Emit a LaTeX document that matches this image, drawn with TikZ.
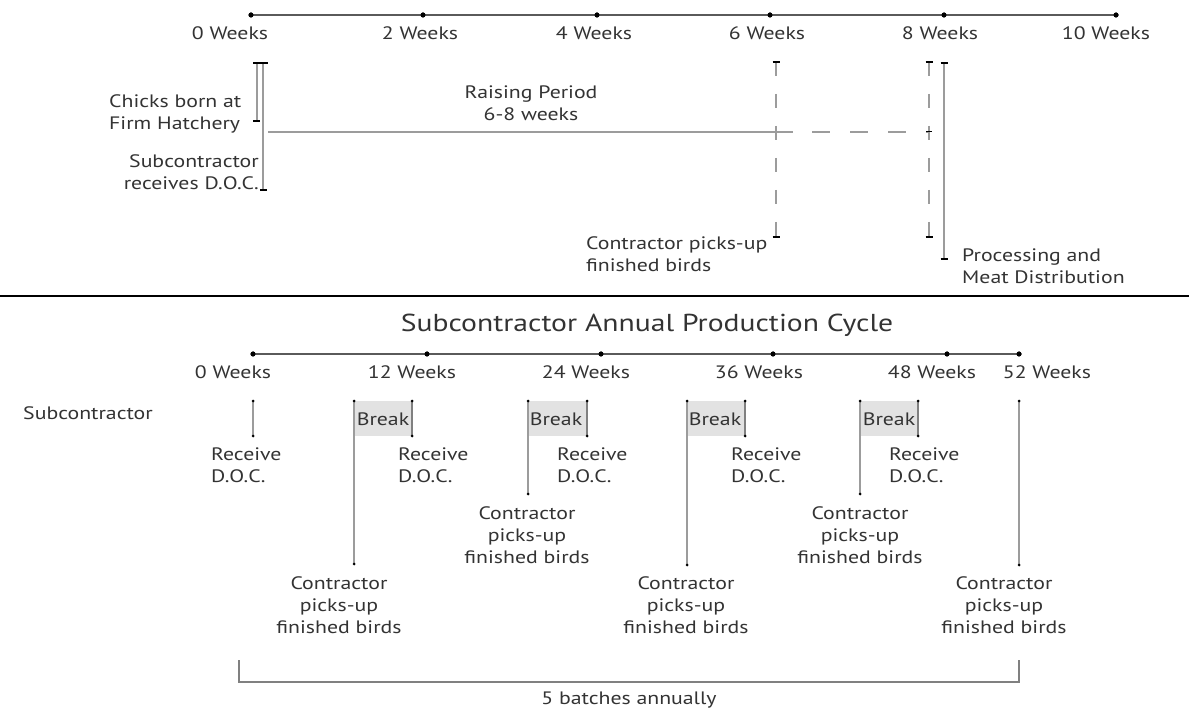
\documentclass[tikz,border=0pt]{standalone}
\usepackage{fontspec}
\setmainfont{PT Sans}[FakeStretch=1.21]
\begin{document}
\begin{tikzpicture}[x=1pt,y=-1pt,
  txt/.style={inner sep=0pt,text=textgray,font=\fontsize{18}{22}\selectfont},
  ttl/.style={inner sep=0pt,text=textgray,font=\fontsize{24.5}{28}\selectfont},
  axis/.style={draw=axisgray,line width=1.6pt},
  bar/.style={draw=bargray,line width=2pt},
  dashbar/.style={draw=bargray,line width=2pt,dash pattern=on 14pt off 18pt},
  endtick/.style={draw=black,line width=2pt},
  axisdot/.style={circle,fill=black,inner sep=0pt,minimum size=5pt},
  smalldot/.style={circle,fill=black,inner sep=0pt,minimum size=3pt},
  breakbox/.style={fill=breakgray,draw=none}]
\definecolor{textgray}{HTML}{333333}
\definecolor{axisgray}{HTML}{5A5A5A}
\definecolor{bargray}{HTML}{9C9C9C}
\definecolor{breakgray}{HTML}{E2E2E2}
\useasboundingbox[fill=white] (0,0) rectangle (1189,711);

% ---------------- upper timeline: 0 to 10 weeks ----------------
\foreach \n/\x in {0/251,2/423,4/597,6/770,8/944,10/1116}
  \node[axisdot] (t\n) at (\x,15) {};
\draw[axis] (t0.center) -- (t10.center);
\foreach \n/\x in {0/251,2/423,4/597,6/770,8/944,10/1116}
  \node[axisdot] at (\x,15) {};
\node[txt] (w0)  at (230,33)  {0 Weeks};
\node[txt] (w2)  at (420,33)  {2 Weeks};
\node[txt] (w4)  at (594,33)  {4 Weeks};
\node[txt] (w6)  at (767,33)  {6 Weeks};
\node[txt] (w8)  at (940,33)  {8 Weeks};
\node[txt] (w10) at (1106,33) {10 Weeks};

% hatchery and delivery of day-old chicks
\coordinate (hTop) at (257,63);  \coordinate (hBot) at (257,121);
\coordinate (dTop) at (263,63);  \coordinate (dBot) at (263,190);
\draw[bar] (hTop) -- (hBot);
\draw[bar] (dTop) -- (dBot);
\draw[endtick] (253,63) -- (268,63);
\draw[endtick] (253,121) -- (260,121);
\draw[endtick] (260,190) -- (267,190);
\node[txt,anchor=west,align=left] (hatch) at (109,114) {Chicks born at\\Firm Hatchery};
\node[txt,anchor=east,align=right] (recv) at (259,172) {Subcontractor\\receives D.O.C.};

% raising period
\coordinate (rStart) at (268,132);
\coordinate (rSolid) at (793,132);
\coordinate (rDash)  at (812,132);
\coordinate (rEnd)   at (929,132);
\draw[bar,line width=1.6pt] (rStart) -- (rSolid);
\draw[bar,line width=1.6pt,dash pattern=on 18pt off 20pt] (rDash) -- (rEnd);
\node[txt,align=center] (raise) at (531,103) {Raising Period\\6-8 weeks};

% pick-up window (dashed) and processing
\coordinate (p6Top) at (776,62);  \coordinate (p6Bot) at (776,237);
\coordinate (p8Top) at (929,62);  \coordinate (p8Bot) at (929,237);
\coordinate (prTop) at (944,63);  \coordinate (prBot) at (944,259);
\draw[dashbar] (p6Top) -- (p6Bot);
\draw[dashbar] (p8Top) -- (p8Bot);
\draw[bar] (prTop) -- (prBot);
\foreach \c in {p6Top,p6Bot,p8Top,p8Bot,prTop,prBot}
  \draw[endtick] ([xshift=-3.5pt]\c) -- ([xshift=3.5pt]\c);
\draw[endtick,line width=1pt] (926,132) -- (932,132);
\node[txt,anchor=west,align=left] (pick) at (586,254) {Contractor picks-up\\finished birds};
\node[txt,anchor=west,align=left] (proc) at (962,266) {Processing and\\Meat Distribution};

% separator
\draw[black,line width=2.5pt] (0,296) -- (1189,296);

% ---------------- lower timeline: annual cycle ----------------
\node[ttl] (title) at (647,325) {Subcontractor Annual Production Cycle};
\foreach \n/\x in {0/253,12/427,24/601,36/773,48/947,52/1019}
  \node[axisdot] (a\n) at (\x,354) {};
\draw[axis] (a0.center) -- (a52.center);
\foreach \n/\x in {0/253,12/427,24/601,36/773,48/947,52/1019}
  \node[axisdot] at (\x,354) {};
\node[txt] at (233,372)  {0 Weeks};
\node[txt] at (412,372)  {12 Weeks};
\node[txt] at (586,372)  {24 Weeks};
\node[txt] at (759,372)  {36 Weeks};
\node[txt] at (932,372)  {48 Weeks};
\node[txt] at (1047,372) {52 Weeks};

\node[txt,anchor=west] (sub) at (23,413) {Subcontractor};

% first delivery
\draw[bar] (253,401) -- (253,436);
\node[smalldot] at (253,401) {}; \node[smalldot] at (253,436) {};
\node[txt,anchor=west,align=left] (r0) at (211,465) {Receive\\D.O.C.};

% breaks, deliveries and pick-ups
\foreach \l/\r/\b/\bx/\rx/\px/\py in
  {354/412/564/383/398/339/605,
   528/587/494/556/557/527/535,
   687/745/565/715/731/686/605,
   860/918/494/889/889/860/535}{
  \fill[breakbox] (\l,401) rectangle (\r,436);
  \draw[bar] (\l,401) -- (\l,\b);
  \draw[bar,draw=gray,line width=2.4pt] (\r,401) -- (\r,436);
  \node[smalldot] at (\l,401) {}; \node[smalldot] at (\l,\b) {};
  \node[smalldot] at (\r,401) {}; \node[smalldot] at (\r,436) {};
  \node[txt] at (\bx,419) {Break};
  \node[txt,anchor=west,align=left] at (\rx,465) {Receive\\D.O.C.};
  \node[txt,align=center] at (\px,\py) {Contractor\\picks-up\\finished birds};
}

% final pick-up
\draw[bar] (1019,401) -- (1019,565);
\node[smalldot] at (1019,401) {}; \node[smalldot] at (1019,565) {};
\node[txt,align=center] (last) at (1004,605) {Contractor\\picks-up\\finished birds};

% annual bracket
\coordinate (bL) at (239,660); \coordinate (bR) at (1019,660);
\draw[draw=gray,line width=2pt] (bL) -- (239,682) -- (1019,682) -- (bR);
\node[txt] (batches) at (629,700) {5 batches annually};
\end{tikzpicture}
\end{document}
